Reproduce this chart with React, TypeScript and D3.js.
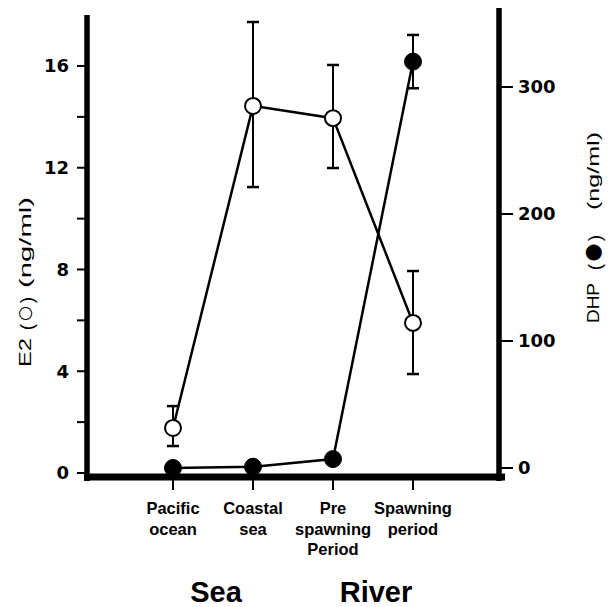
import React from "react";
import * as d3 from "d3";

const categories: string[][] = [
  ["Pacific", "ocean"],
  ["Coastal", "sea"],
  ["Pre", "spawning", "Period"],
  ["Spawning", "period"],
];
const e2Mean = [1.77, 14.43, 13.95, 5.9];
const e2Upper = [2.63, 17.73, 16.04, 7.94];
const e2Lower = [1.06, 11.24, 11.99, 3.89];
const dhpMean = [0, 1, 7, 320];
const dhpUpper: (number | null)[] = [null, null, null, 341];
const dhpLower: (number | null)[] = [null, null, null, 299];
const e2TickValues = [0, 4, 8, 12, 16];
const e2MinorTicks = [2, 6, 10, 14];
const dhpTickValues = [0, 100, 200, 300];
const regionLabels = ["Sea", "River"];
const leftTitleParts = ["E2", "(", "○", ")", "(ng/ml)"];
const rightTitleParts = ["DHP", "(", "●", ")", "(ng/ml)"];

const W = 613;
const H = 607;

function TitlePart({
  text,
  x,
  y,
  len,
  size,
  family,
}: {
  text: string;
  x: number;
  y: number;
  len?: number;
  size: number;
  family: string;
}) {
  return (
    <text
      transform={`translate(${x},${y}) rotate(-90)`}
      textAnchor="middle"
      fontFamily={family}
      fontSize={size}
      textLength={len}
      lengthAdjust={len ? "spacingAndGlyphs" : undefined}
    >
      {text}
    </text>
  );
}

export default function App() {
  const ids = categories.map((_, i) => String(i));
  const x = d3.scalePoint<string>().domain(ids).range([173, 413]);
  const yL = d3.scaleLinear().domain([0, 16]).range([473, 66]);
  const yR = d3.scaleLinear().domain([0, 300]).range([468, 87]);

  const lineL = d3
    .line<number>()
    .x((_, i) => x(ids[i]) as number)
    .y((d) => yL(d));
  const lineR = d3
    .line<number>()
    .x((_, i) => x(ids[i]) as number)
    .y((d) => yR(d));

  const leftX = 87;
  const rightX = 499;
  const axisY = 477;
  const numFont = "'DejaVu Sans', sans-serif";
  const labFont = "'Liberation Sans', Arial, sans-serif";
  const symFont = "'DejaVu Sans', sans-serif";
  const cap = 6;

  // title layout: centers, lengths, sizes along the axis
  const leftCenters = [352.5, 327, 313.5, 300, 242.5];
  const rightCenters = [303, 267, 252.5, 238, 171];
  const leftLens = [29, undefined, undefined, undefined, 91];
  const rightLens = [40, undefined, undefined, undefined, 78];
  const leftSizes = [17, 19, 17, 19, 17];
  const rightSizes = [17, 19, 21, 19, 17];
  const partFamilies = [labFont, labFont, symFont, labFont, labFont];
  const leftDx = [0, 1.5, -1, 1.5, 0];
  const rightDx = [0, 1.5, 0, 1.5, 0];

  return (
    <svg
      width={W}
      height={H}
      style={{ position: "absolute", left: 0, top: 0, background: "#fff" }}
    >
      <rect x={0} y={0} width={W} height={H} fill="#fff" />
      {/* axes */}
      <line x1={leftX} x2={leftX} y1={15} y2={481} stroke="#000" strokeWidth={5.5} />
      <line x1={rightX} x2={rightX} y1={8} y2={481} stroke="#000" strokeWidth={5.5} />
      <line x1={84} x2={505} y1={axisY} y2={axisY} stroke="#000" strokeWidth={7} />

      {/* left ticks */}
      {[...e2TickValues, ...e2MinorTicks].map((t) => (
        <line
          key={"lt" + t}
          x1={leftX - 10}
          x2={leftX}
          y1={yL(t)}
          y2={yL(t)}
          stroke="#000"
          strokeWidth={2}
        />
      ))}
      {e2TickValues.map((t) => (
        <text
          key={"ll" + t}
          x={leftX - 18}
          y={yL(t)}
          dy="0.36em"
          textAnchor="end"
          fontFamily={numFont}
          fontWeight="bold"
          fontSize={18}
        >
          {t}
        </text>
      ))}

      {/* right ticks */}
      {dhpTickValues.map((t) => (
        <g key={"rt" + t}>
          <line
            x1={rightX}
            x2={rightX + 14}
            y1={yR(t)}
            y2={yR(t)}
            stroke="#000"
            strokeWidth={2}
          />
          <text
            x={rightX + 19}
            y={yR(t)}
            dy="0.36em"
            textAnchor="start"
            fontFamily={numFont}
            fontWeight="bold"
            fontSize={18}
          >
            {t}
          </text>
        </g>
      ))}

      {/* bottom ticks and category labels */}
      {categories.map((lines, i) => {
        const cx = x(ids[i]) as number;
        return (
          <g key={"c" + i}>
            <line x1={cx} x2={cx} y1={axisY} y2={490} stroke="#000" strokeWidth={2} />
            <text
              x={cx}
              y={514}
              textAnchor="middle"
              fontFamily={labFont}
              fontWeight="bold"
              fontSize={16.5}
            >
              {lines.map((l, j) => (
                <tspan key={j} x={cx} dy={j === 0 ? 0 : 20.5}>
                  {l}
                </tspan>
              ))}
            </text>
          </g>
        );
      })}

      {/* region labels */}
      {regionLabels.map((r, i) => {
        const a = x(ids[i * 2]) as number;
        const b = x(ids[i * 2 + 1]) as number;
        return (
          <text
            key={r}
            x={(a + b) / 2 + 3}
            y={602}
            textAnchor="middle"
            fontFamily={labFont}
            fontWeight="bold"
            fontSize={29}
          >
            {r}
          </text>
        );
      })}

      {/* axis titles */}
      {leftTitleParts.map((p, i) => (
        <TitlePart
          key={"lp" + i}
          text={p}
          x={31 + leftDx[i]}
          y={leftCenters[i]}
          len={leftLens[i]}
          size={leftSizes[i]}
          family={partFamilies[i]}
        />
      ))}
      {rightTitleParts.map((p, i) => (
        <TitlePart
          key={"rp" + i}
          text={p}
          x={599 + rightDx[i]}
          y={rightCenters[i]}
          len={rightLens[i]}
          size={rightSizes[i]}
          family={partFamilies[i]}
        />
      ))}

      {/* data lines */}
      <path d={lineL(e2Mean) || ""} fill="none" stroke="#000" strokeWidth={2.5} />
      <path d={lineR(dhpMean) || ""} fill="none" stroke="#000" strokeWidth={2.5} />

      {/* error bars E2 */}
      {e2Mean.map((_, i) => {
        const cx = x(ids[i]) as number;
        return (
          <g key={"e" + i}>
            <line x1={cx} x2={cx} y1={yL(e2Upper[i])} y2={yL(e2Lower[i])} stroke="#000" strokeWidth={2} />
            <line x1={cx - cap} x2={cx + cap} y1={yL(e2Upper[i])} y2={yL(e2Upper[i])} stroke="#000" strokeWidth={2.5} />
            <line x1={cx - cap} x2={cx + cap} y1={yL(e2Lower[i])} y2={yL(e2Lower[i])} stroke="#000" strokeWidth={2.5} />
          </g>
        );
      })}
      {/* error bars DHP */}
      {dhpMean.map((_, i) => {
        const u = dhpUpper[i];
        const l = dhpLower[i];
        if (u == null || l == null) return null;
        const cx = x(ids[i]) as number;
        return (
          <g key={"d" + i}>
            <line x1={cx} x2={cx} y1={yR(u)} y2={yR(l)} stroke="#000" strokeWidth={2} />
            <line x1={cx - cap} x2={cx + cap} y1={yR(u)} y2={yR(u)} stroke="#000" strokeWidth={2.5} />
            <line x1={cx - cap} x2={cx + cap} y1={yR(l)} y2={yR(l)} stroke="#000" strokeWidth={2.5} />
          </g>
        );
      })}

      {/* markers */}
      {e2Mean.map((v, i) => (
        <circle
          key={"oc" + i}
          cx={x(ids[i]) as number}
          cy={yL(v)}
          r={8}
          fill="#fff"
          stroke="#000"
          strokeWidth={2}
        />
      ))}
      {dhpMean.map((v, i) => (
        <circle
          key={"fc" + i}
          cx={x(ids[i]) as number}
          cy={yR(v)}
          r={8.5}
          fill="#000"
          stroke="#000"
          strokeWidth={1}
        />
      ))}
    </svg>
  );
}
